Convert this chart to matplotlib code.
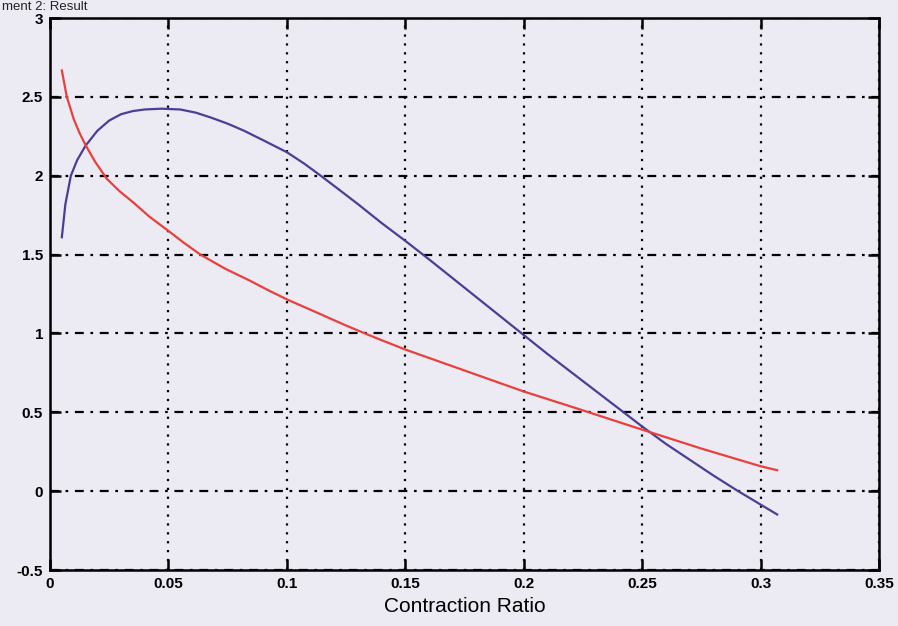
import matplotlib
matplotlib.use("Agg")
import matplotlib.pyplot as plt

# Data
x_purple = [0.005, 0.0065, 0.0088, 0.0115, 0.015, 0.02, 0.025, 0.03, 0.035, 0.04,
            0.047, 0.055, 0.0615, 0.0677, 0.075, 0.0818, 0.09, 0.10, 0.1075, 0.1143,
            0.12, 0.13, 0.14, 0.15, 0.16, 0.17, 0.18, 0.19, 0.20, 0.21,
            0.22, 0.23, 0.24, 0.25, 0.26, 0.27, 0.28, 0.29, 0.30, 0.307]
y_purple = [1.61, 1.82, 2.00, 2.10, 2.19, 2.285, 2.35, 2.39, 2.41, 2.42,
            2.425, 2.42, 2.40, 2.37, 2.33, 2.286, 2.225, 2.149, 2.075, 2.00,
            1.935, 1.82, 1.70, 1.587, 1.47, 1.35, 1.23, 1.11, 0.99, 0.87,
            0.755, 0.64, 0.525, 0.41, 0.30, 0.20, 0.10, 0.005, -0.085, -0.148]

x_red = [0.005, 0.0071, 0.010, 0.0125, 0.015, 0.019, 0.024, 0.0295, 0.0352, 0.042,
         0.05, 0.0565, 0.0635, 0.074, 0.0846, 0.092, 0.10, 0.11, 0.125, 0.1375,
         0.15, 0.175, 0.20, 0.224, 0.25, 0.275, 0.30, 0.307]
y_red = [2.667, 2.50, 2.36, 2.27, 2.195, 2.09, 1.98, 1.90, 1.83, 1.74,
         1.65, 1.575, 1.50, 1.41, 1.333, 1.275, 1.216, 1.15, 1.05, 0.972,
         0.898, 0.765, 0.632, 0.517, 0.39, 0.27, 0.158, 0.133]

x_ticks = [0, 0.05, 0.1, 0.15, 0.2, 0.25, 0.3, 0.35]
x_ticklabels = ["0", "0.05", "0.1", "0.15", "0.2", "0.25", "0.3", "0.35"]
y_ticks = [-0.5, 0, 0.5, 1, 1.5, 2, 2.5, 3]
y_ticklabels = ["-0.5", "0", "0.5", "1", "1.5", "2", "2.5", "3"]

bg = "#eceaf3"
fig = plt.figure(figsize=(8.98, 6.26), dpi=100, facecolor=bg)
ax = fig.add_axes([50/898, 1-570/626, (879-50)/898, (570-18)/626])
ax.set_facecolor(bg)

ax.plot(x_purple, y_purple, color="#4a3f95", lw=1.6, zorder=3)
ax.plot(x_red, y_red, color="#e8403a", lw=1.6, zorder=3)

ax.set_xlim(0, 0.35)
ax.set_ylim(-0.5, 3)
ax.set_xticks(x_ticks)
ax.set_xticklabels(x_ticklabels)
ax.set_yticks(y_ticks)
ax.set_yticklabels(y_ticklabels)

ax.xaxis.grid(True, linestyle=(0, (1, 3)), color="black", lw=1.6)
ax.yaxis.grid(True, linestyle=(0, (4, 3, 1.2, 3)), color="black", lw=1.6)
ax.set_axisbelow(True)

for s in ax.spines.values():
    s.set_linewidth(1.8)
    s.set_color("black")

ax.tick_params(direction="in", length=8, width=1.8, top=True, right=True,
               labelsize=11, pad=5)
for lab in ax.get_xticklabels() + ax.get_yticklabels():
    lab.set_fontweight("heavy")
    lab.set_family("Liberation Sans")

ax.set_xlabel("Contraction Ratio", fontsize=15, family="Liberation Sans", labelpad=4)

fig.text(0.002, 0.999, "ment 2: Result", fontsize=9.5, family="Liberation Sans",
         ha="left", va="top", color="#222222")

fig.savefig("out.png", dpi=100, facecolor=bg)
